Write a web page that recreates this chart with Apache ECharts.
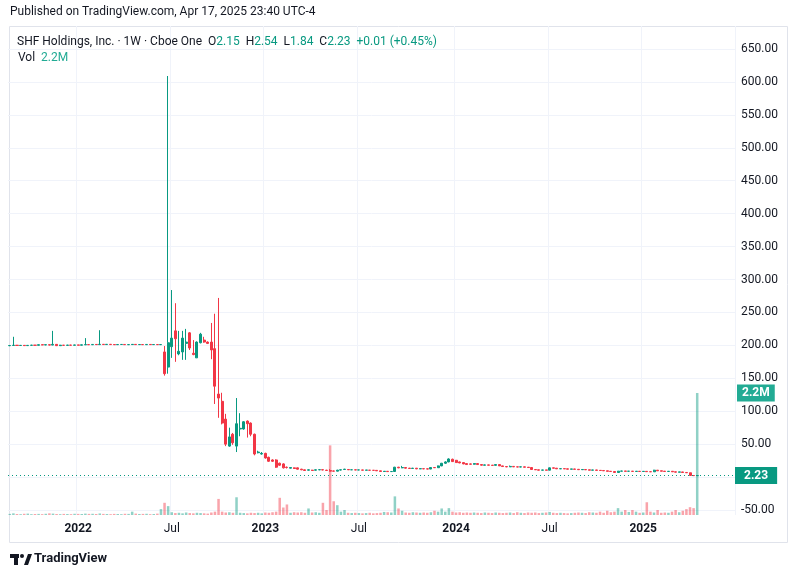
<!DOCTYPE html>
<html>
<head>
<meta charset="utf-8">
<script src="https://cdn.jsdelivr.net/npm/echarts@6/dist/echarts.min.js"></script>
<style>
  html, body { margin: 0; padding: 0; background: #fff; }
  #chart { width: 798px; height: 578px; }
</style>
</head>
<body>
<div id="chart"></div>
<script>
const UP = '#089981';
const DOWN = '#F23645';

// weekly candles, first week starts Mon 2021-08-16
const startDate = new Date(Date.UTC(2021, 7, 16));
const padWeeks = 10; // empty space on the right of the last candle

// [open, close, low, high]
const ohlc = [
  [199.5,199.8,198.8,200.5],[199.8,200.2,199,213],[200.2,199.8,199.5,200.6],[199.8,200,199.2,200.5],[200,199.6,199,200.4],
  [199.6,200,199.2,200.3],[200,200.3,199.7,200.8],[200.3,200.1,199.8,200.6],[200.1,201,199.9,201.3],[201,200.6,200.2,201.2],
  [200.6,201,200.3,201.4],[201,200.4,200,201.3],[200.4,201.5,200.2,222],[201.5,199.5,199,202],[199.5,200.3,199.2,200.8],
  [200.3,200,199.6,200.6],[200,200.4,199.8,200.7],[200.4,200.2,199.9,200.8],[200.2,200.6,200,200.9],[200.6,200.3,200,200.9],
  [200.3,200.8,200.1,201.1],[200.8,201.2,200.5,211],[201.2,200.9,200.6,201.5],[200.9,201.4,200.6,201.8],[201.4,201.1,200.8,201.7],
  [201.1,201.6,200.9,223],[201.6,201.2,200.8,202],[201.2,201.6,201,201.9],[201.6,201.2,200.8,201.9],[201.2,201,200.6,201.5],
  [201,201.3,200.7,201.6],[201.3,201.4,201,201.7],[201.4,201,200.7,201.7],[201,201.2,200.8,201.5],[201.2,201.5,200.9,201.8],
  [201.5,201.1,200.8,201.8],[201.1,201.3,200.8,201.6],[201.3,201,200.7,201.6],[201,201.4,200.8,201.7],[201.4,201.1,200.8,201.7],
  [201.1,201.3,200.9,201.6],[201.3,201,200.7,201.6],[201,201.3,200.5,201.6],
  [190,157,154,199],[167,204,157,609],[198,211,181,284],[222,210,175,264],[187,191,185,222],
  [190,211,178,222],[203,205,178,225],[219,196,193,220],[188,186,185,208],[181,205,181,206],
  [204,217,203,219],[208,205,204,213],[205,203,202,206],[205,193,179,234],[195,138,111,248],
  [126,120,90,272],[115,82,80,128],[88,50,47,96],[47,61,46,75],[65,52,49,67],
  [47,81,38,120],[73,74,62,97],[73,84,72,85],[85,81,60,86],[82,65,62,83],
  [65,35,33,66],[37,38,36,40],[35,36,34,38],[36,29,28,37],[30,24,23,31],
  [26,24,23,27],[26,15,14,27],[21,18,17,22],[20,14,13,21],[15,14.5,13,16],
  [13.5,14.5,13,15],[14,13,12.5,14.5],[14,12,11.5,14.5],[12,11,10.5,12.5],[11,10,9.5,11.5],
  [10.5,11,10,11.5],[10.5,10,9.5,11],[10.5,11,10,11.5],[11,11.3,10.5,11.8],[11.2,10.8,10.3,11.5],
  [10.5,10,9.5,11],[10,9,8.5,12],[9.3,9,8.5,9.8],[9,10.5,8.8,11],[10.7,11,10.2,11.5],
  [11.5,12,11,12.5],
  [11.5,11,10.8,11.8],[11,11.1,10.7,11.3],[11,10.8,10.5,11.2],[10.8,10.9,10.5,11],[10.8,10.5,10.2,11],
  [10.5,10.6,10.2,10.8],[10.5,10.3,10,10.7],[10.3,10.2,9.8,10.5],[10.2,9.5,9.2,10.4],[9.5,8.5,8.2,9.7],
  [8.5,8.8,8,9],[8.8,8.3,8,9],[8.3,8.5,8,8.8],[8.5,15,8,15.5],[15,14,13.5,15.5],
  [14,14.5,13.5,17],[14.5,13.5,13,15],[13.5,13,12.5,14],[13,13.5,12.8,14],[13.5,12.5,12,13.8],
  [12.5,12.8,12,13.2],[12.8,12.5,12,13],[12.5,12.2,11.8,13],[12.2,14.5,12,15],[14.5,14.2,13.8,15],
  [14.2,17,14,17.5],[17,21,16.5,21.5],[21,23,20,24],[23,27.5,22.5,28.5],[27,23.5,23,28],
  [25.5,22,21.5,26],[23,21.5,21,23.5],[22,20,19.5,22.5],[20.5,19,18.5,21],[20,19.5,19,20.5],
  [19.5,20.5,19,21],[20.5,19,18.8,21],[19,18,17.5,19.3],[18,18.5,17.8,19],[18.5,18,17.7,18.8],
  [18,17.8,17.5,18.3],[17.8,19,17.5,19.5],[19,17,16.8,19.2],[17,16,15.8,17.3],[16,15.5,15,16.3],
  [15.5,16.2,15.2,17.5],[16.2,15.5,15.2,16.5],[15.5,15.3,15,15.8],[15.3,15.5,15,15.8],[15.5,15,14.8,15.8],
  [15,14.5,14.2,15.2],[14.5,11.5,11.2,14.7],[11.5,11,10.8,11.8],[11,10.5,10.2,11.2],[10.5,10.8,10.2,11],
  [10.8,10.5,10.2,11],[10.5,14,10.3,14.5],[14,13.5,13.2,14.2],[13.5,12.5,12.2,13.8],[12.5,12.8,12.2,13],
  [12.8,12.5,12.2,13],[12.5,12,11.7,12.8],[12,12.3,11.8,12.5],[12.3,11.8,11.5,12.5],[11.8,11.2,11,12],
  [11.2,11.5,11,11.8],[11.5,11,10.8,11.7],[11,10.5,10.2,11.2],[10.5,10.8,10.3,11],[10.8,10.2,10,11],
  [10.2,10,9.7,10.5],[10,9.5,9.2,10.2],[9.5,8.8,8.5,9.7],[8.8,8.5,8.2,9],[8.5,7,6.8,8.7],
  [7,9,6.8,9.3],[9,9.2,8.7,9.5],[9.2,8.8,8.5,9.4],[8.8,9,8.5,9.2],[9,8.6,8.3,9.2],
  [8.6,8.8,8.3,9],[8.8,8.5,8.2,9],[8.5,8.7,8.3,9],[8.7,8.2,8,9],[8.2,8,7.8,8.4],
  [8,10.5,7.8,11],[10.5,9.5,9.2,10.7],[9.5,9,8.7,9.7],[9,8.5,8.2,9.2],[8.5,8.8,8.2,9],
  [8.8,8,7.8,9],[8,7.5,7.2,8.2],[7.5,7.8,7.2,8],[7.8,7,6.8,8],[7,6.5,6.2,7.2],
  [6.5,2.4,2.2,6.7],[2.4,2.15,2,2.6],[2.15,2.23,1.84,2.54]
];

// weekly volume, thousands of shares
const volume = [
  20,30,18,15,22,25,15,18,20,15, 22,30,25,18,15,20,18,15,22,20,
  18,25,20,22,18,28,20,18,15,20, 18,15,22,20,60,25,18,20,22,15,
  18,25,106,
  220,160,50,35,40,30,45,35,30,40, 35,30,25,45,60,290,60,45,50,40,
  320,40,35,30,40,35,40,30,45,40, 50,60,310,135,190,40,50,45,50,40,
  118,45,50,40,220,90,1256,248,177,60, 90,40,35,40,35,30,35,40,30,35,
  40,55,50,45,336,118,77,45,40,50, 45,40,45,40,50,77,60,118,60,124,
  60,45,50,40,45,40,45,40,35,45, 40,35,45,40,35,40,45,35,50,40,
  35,45,40,45,35,40,45,55,40,35, 40,35,30,35,40,45,40,35,50,45,
  40,60,40,77,50,60,124,60,90,55, 90,60,40,45,230,60,45,90,40,45,
  40,60,90,50,77,106,141,124,2200
];

const priceTicks = [-50, 650, 50]; // min, max, step
const lastPrice = 2.23;
const lastVolume = 2200;

const weeks = [];
for (let i = 0; i < ohlc.length + padWeeks; i++) {
  weeks.push(new Date(startDate.getTime() + i * 7 * 86400000));
}
const categories = weeks.map(d => d.toISOString().slice(0, 10));

// label on the week that contains Jan 1 / Jul 1
function tickLabel(i) {
  const d = weeks[i];
  const end = new Date(d.getTime() + 6 * 86400000);
  if (end.getUTCMonth() !== d.getUTCMonth() || d.getUTCDate() === 1) {
    const m = end.getUTCDate() <= 7 ? end.getUTCMonth() : d.getUTCMonth();
    if (m === 0) return { text: String(end.getUTCFullYear()), year: true };
    if (m === 6) return { text: 'Jul', year: false };
  }
  return null;
}

const candleData = categories.map((c, i) => ohlc[i] || '-');
const volData = categories.map((c, i) => {
  if (i >= volume.length) return '-';
  const up = ohlc[i][1] >= ohlc[i][0];
  return { value: volume[i], itemStyle: { color: up ? 'rgba(8,153,129,0.45)' : 'rgba(242,54,69,0.45)' } };
});

const chart = echarts.init(document.getElementById('chart'));
const font = 'Roboto, "Noto Sans", sans-serif';

chart.setOption({
  animation: false,
  textStyle: { fontFamily: font },
  grid: [
    { left: 8, right: 63, top: 49, bottom: 68 },
    { left: 8, right: 63, top: 26, bottom: 63 }
  ],
  xAxis: [
    { gridIndex: 0, type: 'category', data: categories, show: false },
    {
      gridIndex: 1, type: 'category', data: categories,
      axisLine: { show: false }, axisTick: { show: false },
      axisLabel: {
        interval: (i) => !!tickLabel(i),
        formatter: (v, i) => {
          const t = tickLabel(i);
          if (!t) return '';
          return t.year ? '{y|' + t.text + '}' : '{m|' + t.text + '}';
        },
        margin: 8,
        rich: {
          y: { fontSize: 12, fontWeight: 'bold', color: '#131722', fontFamily: font },
          m: { fontSize: 12, color: '#131722', fontFamily: font }
        }
      },
      splitLine: { show: true, interval: (i) => !!tickLabel(i), lineStyle: { color: '#f0f3fa' } }
    }
  ],
  yAxis: [
    {
      gridIndex: 0, position: 'right',
      min: priceTicks[0], max: priceTicks[1], interval: priceTicks[2],
      axisLine: { show: false }, axisTick: { show: false },
      axisLabel: { color: '#131722', fontSize: 12, margin: 6, formatter: (v) => v.toFixed(2) },
      splitLine: { lineStyle: { color: '#f0f3fa' } }
    },
    {
      gridIndex: 1, min: 0, max: 8820, show: false, splitLine: { show: false }
    }
  ],
  series: [
    {
      type: 'bar', xAxisIndex: 1, yAxisIndex: 1,
      data: volData, barWidth: '70%', z: 1,
      markLine: {
        silent: true, symbol: 'none',
        lineStyle: { color: 'rgba(0,0,0,0)', width: 1, type: 'solid' },
        data: [{ yAxis: lastVolume }],
        label: {
          show: true, position: 'end', distance: 2, formatter: '2.2M',
          color: '#fff', backgroundColor: '#22ab94', padding: [3, 5, 2, 5],
          fontSize: 12, fontWeight: 'bold'
        }
      }
    },
    {
      type: 'candlestick', xAxisIndex: 0, yAxisIndex: 0,
      data: candleData, barWidth: '70%', z: 3,
      itemStyle: { color: UP, color0: DOWN, borderColor: UP, borderColor0: DOWN, borderWidth: 1 },
      markLine: {
        silent: true, symbol: 'none',
        data: [{ yAxis: lastPrice }],
        lineStyle: { color: UP, type: [1, 3], width: 1 },
        label: {
          position: 'end', distance: 0, formatter: '2.23',
          color: '#fff', backgroundColor: UP, padding: [3, 9, 2, 9],
          fontSize: 12, fontWeight: 'bold'
        }
      }
    }
  ],
  graphic: [
    { type: 'rect', shape: { x: 9.5, y: 26.5, width: 778, height: 516 }, style: { fill: 'none', stroke: '#e0e3eb' }, z: -1 },
    { type: 'text', z: 100, left: 10, top: 6, style: { text: 'Published on TradingView.com, Apr 17, 2025 23:40 UTC-4', fontSize: 12, fill: '#131722', fontFamily: font } },
    {
      type: 'text', z: 100, left: 17, top: 36,
      style: {
        text: 'SHF Holdings, Inc. · 1W · Cboe One  O{g|2.15}  H{g|2.54}  L{g|1.84}  C{g|2.23}  {g|+0.01 (+0.45%)}',
        fontSize: 12, fill: '#131722', fontFamily: font,
        rich: { g: { fill: UP, fontSize: 12, fontFamily: font } }
      }
    },
    {
      type: 'text', z: 100, left: 18, top: 52,
      style: { text: 'Vol  {t|2.2M}', fontSize: 12, fill: '#131722', fontFamily: font, rich: { t: { fill: '#22ab94', fontSize: 12, fontFamily: font } } }
    },
    { type: 'rect', shape: { x: 10, y: 554, width: 9, height: 4 }, style: { fill: '#131722' } },
    { type: 'rect', shape: { x: 14, y: 554, width: 4, height: 11 }, style: { fill: '#131722' } },
    { type: 'circle', shape: { cx: 22, cy: 556, r: 2 }, style: { fill: '#131722' } },
    { type: 'polygon', shape: { points: [[24, 565], [28, 554], [32, 554], [28, 565]] }, style: { fill: '#131722' } },
    { type: 'text', left: 34, top: 552, style: { text: 'TradingView', fontSize: 13, fontWeight: 'bold', fill: '#131722', fontFamily: font } }
  ]
});
</script>
</body>
</html>
